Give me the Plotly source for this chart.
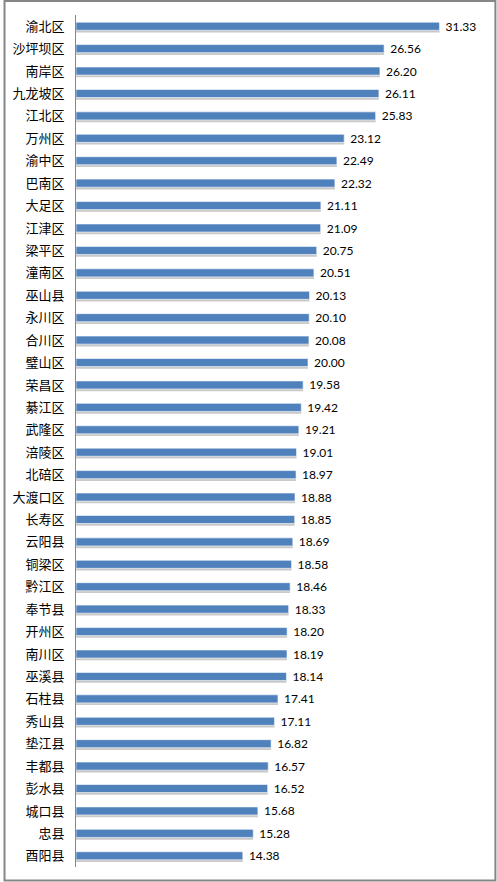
import plotly.graph_objects as go

districts = [
    "渝北区", "沙坪坝区", "南岸区", "九龙坡区", "江北区", "万州区", "渝中区",
    "巴南区", "大足区", "江津区", "梁平区", "潼南区", "巫山县", "永川区",
    "合川区", "璧山区", "荣昌区", "綦江区", "武隆区", "涪陵区", "北碚区",
    "大渡口区", "长寿区", "云阳县", "铜梁区", "黔江区", "奉节县", "开州区",
    "南川区", "巫溪县", "石柱县", "秀山县", "垫江县", "丰都县", "彭水县",
    "城口县", "忠县", "酉阳县",
]
values = [
    31.33, 26.56, 26.20, 26.11, 25.83, 23.12, 22.49,
    22.32, 21.11, 21.09, 20.75, 20.51, 20.13, 20.10,
    20.08, 20.00, 19.58, 19.42, 19.21, 19.01, 18.97,
    18.88, 18.85, 18.69, 18.58, 18.46, 18.33, 18.20,
    18.19, 18.14, 17.41, 17.11, 16.82, 16.57, 16.52,
    15.68, 15.28, 14.38,
]
value_labels = ["%.2f" % v for v in values]

bar_w = 0.36

# soft grey shadow under each bar
shadow = go.Bar(
    x=values,
    y=districts,
    orientation="h",
    width=bar_w,
    offset=-bar_w / 2 + 0.1,
    marker=dict(color="#c9c9c9", line=dict(width=0)),
    hoverinfo="skip",
    showlegend=False,
)

bars = go.Bar(
    x=values,
    y=districts,
    orientation="h",
    width=bar_w,
    offset=-bar_w / 2,
    marker=dict(color="#4f81bd", line=dict(color="#ffffff", width=0.6)),
    text=value_labels,
    texttemplate="&nbsp;%{text}",
    textposition="outside",
    constraintext="none",
    textfont=dict(family="Lato, 'Noto Sans', sans-serif", size=12, color="#000000"),
    cliponaxis=False,
    showlegend=False,
)

fig = go.Figure(data=[shadow, bars])

W, H = 497, 882
ml, mr, mt, mb = 73, 15, 15, 15
pw = W - ml - mr
ph = H - mt - mb

fig.update_layout(
    width=W,
    height=H,
    margin=dict(l=ml, r=mr, t=mt, b=mb, pad=0),
    barmode="overlay",
    plot_bgcolor="#ffffff",
    paper_bgcolor="#ffffff",
    font=dict(family="'Noto Sans CJK SC', sans-serif", size=13, color="#000000"),
    xaxis=dict(
        range=[0, 35],
        visible=False,
        showgrid=False,
        zeroline=False,
    ),
    yaxis=dict(
        autorange="reversed",
        showgrid=False,
        zeroline=False,
        showline=True,
        linecolor="#868686",
        linewidth=1,
        ticks="",
        ticklabelstandoff=8,
        tickfont=dict(family="'Noto Sans CJK SC', sans-serif", size=13, color="#000000"),
    ),
    shapes=[
        # outer frame round the whole picture
        dict(
            type="rect",
            xref="paper",
            yref="paper",
            x0=-(ml - 1) / pw,
            x1=1 + (mr - 1.5) / pw,
            y0=-(mb - 1.5) / ph,
            y1=1 + (mt - 1) / ph,
            line=dict(color="#868686", width=2),
            fillcolor="rgba(0,0,0,0)",
            layer="below",
        )
    ],
)

# page body has a default 8px margin; drop it so the figure fills the window
fig.write_html(
    "out.html",
    config={"displayModeBar": False},
    post_script="document.body.style.margin='0';",
)
